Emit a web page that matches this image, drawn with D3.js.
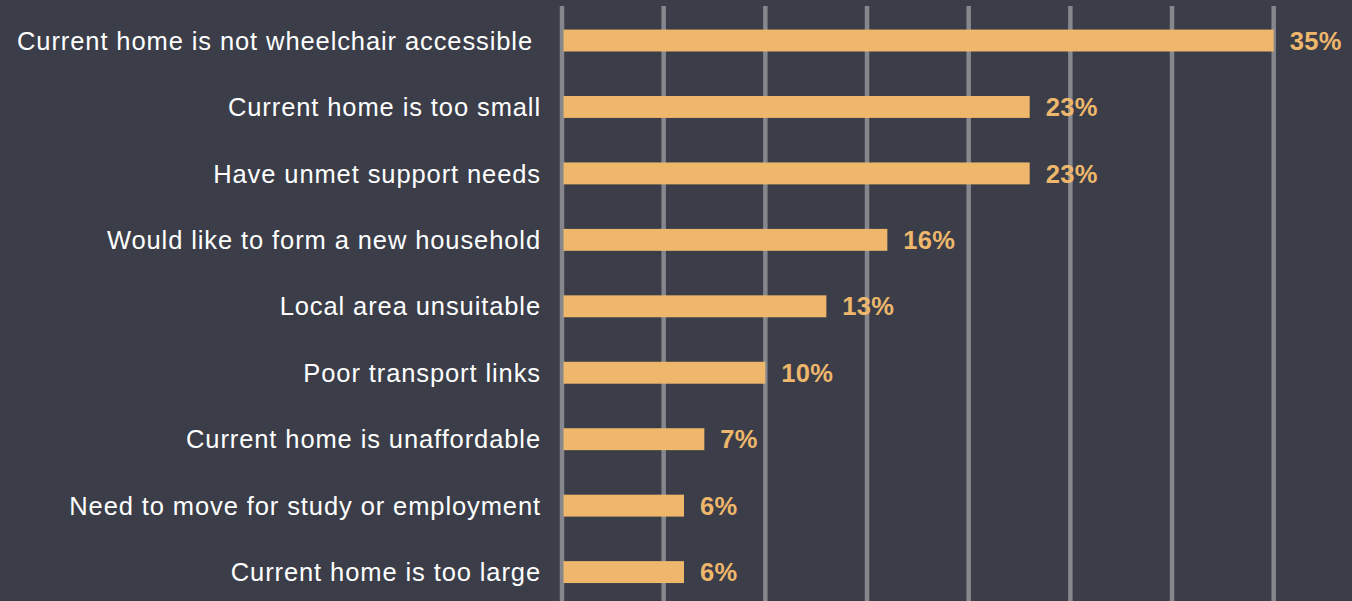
<!DOCTYPE html>
<html>
<head>
<meta charset="utf-8">
<script src="https://cdn.jsdelivr.net/npm/d3@7"></script>
<style>
  html, body { margin: 0; padding: 0; background: #3b3e49; }
  svg { display: block; }
  text { font-family: "Liberation Sans", Arial, Helvetica, sans-serif; }
</style>
</head>
<body>
<svg id="chart" width="1352" height="601"></svg>
<script>
// Reasons for wanting to move home (% of respondents)
const reasons = [
  "Current home is not wheelchair accessible ",
  "Current home is too small",
  "Have unmet support needs",
  "Would like to form a new household",
  "Local area unsuitable",
  "Poor transport links",
  "Current home is unaffordable",
  "Need to move for study or employment",
  "Current home is too large"
];
const shares = [35, 23, 23, 16, 13, 10, 7, 6, 6];
const gridTicks = [0, 5, 10, 15, 20, 25, 30, 35];

const W = 1352, H = 601;
const svg = d3.select("#chart");

const x = d3.scaleLinear().domain([0, 35]).range([562, 1273.7]);
const y = d3.scaleBand()
  .domain(reasons)
  .range([7.3, 605.3])
  .paddingInner(0.67)
  .paddingOuter(0.335);

// vertical gridlines
svg.append("g")
  .selectAll("line")
  .data(gridTicks)
  .join("line")
  .attr("x1", d => x(d))
  .attr("x2", d => x(d))
  .attr("y1", 6)
  .attr("y2", H)
  .attr("stroke", "#85878d")
  .attr("stroke-width", 4.5);

const rows = reasons.map((r, i) => ({ reason: r, value: shares[i] }));

// bars
svg.append("g")
  .selectAll("rect")
  .data(rows)
  .join("rect")
  .attr("x", x(0) + 1.5)
  .attr("y", d => y(d.reason))
  .attr("width", d => x(d.value) - x(0) - 1.5)
  .attr("height", y.bandwidth())
  .attr("fill", "#eeb76b");

// category labels
svg.append("g")
  .selectAll("text")
  .data(rows)
  .join("text")
  .attr("x", 541)
  .attr("y", d => y(d.reason) + y.bandwidth() / 2)
  .attr("dy", "0.36em")
  .attr("text-anchor", "end")
  .attr("fill", "#ffffff")
  .style("white-space", "pre")
  .style("font-size", "25.5px")
  .style("letter-spacing", "0.9px")
  .text(d => d.reason);

// value labels
svg.append("g")
  .selectAll("text")
  .data(rows)
  .join("text")
  .attr("x", d => x(d.value) + 16)
  .attr("y", d => y(d.reason) + y.bandwidth() / 2)
  .attr("dy", "0.36em")
  .attr("fill", "#eeb76b")
  .style("font-size", "25.5px")
  .style("font-weight", "bold")
  .style("letter-spacing", "0.3px")
  .text(d => d.value + "%");
</script>
</body>
</html>
